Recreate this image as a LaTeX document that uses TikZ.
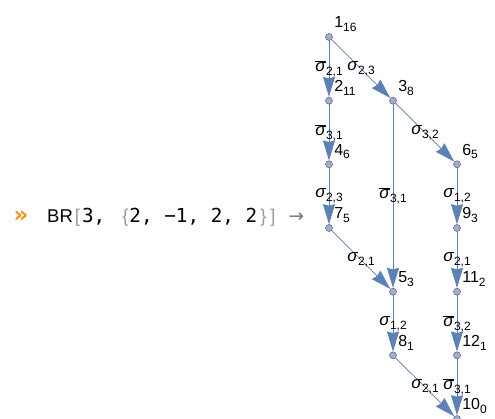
\documentclass[tikz,border=0pt]{standalone}
\usepackage{fontspec}
\setmainfont{Liberation Sans}
\newfontfamily\monofont{DejaVu Sans Mono}
\newfontfamily\symfont{DejaVu Sans}
\usetikzlibrary{arrows.meta}
\definecolor{edgeblue}{rgb}{0.368,0.507,0.710}
\definecolor{vfill}{HTML}{A3AFC6}
\definecolor{vdraw}{HTML}{5F6F8F}
\definecolor{promptorange}{HTML}{F0901E}
\definecolor{brk}{HTML}{9A9A9A}
% sigma labels: plain and inverse
\newcommand{\sg}[1]{\textit{σ}\raisebox{-0.45ex}{\fontsize{12}{12}\selectfont #1}}
\newcommand{\sgb}[1]{$\overline{\hbox{\textit{σ}}}$\raisebox{-0.45ex}{\fontsize{12}{12}\selectfont #1}}
\newcommand{\vn}[2]{#1\raisebox{-0.45ex}{\fontsize{12}{12}\selectfont #2}}

\begin{document}
\begin{tikzpicture}[x=64pt,y=63.67pt,>={Stealth[length=20pt,width=12pt,inset=1.5pt]},
  v/.style={circle,draw=vdraw,fill=vfill,line width=0.6pt,inner sep=0pt,minimum size=7pt},
  e/.style={->,draw=edgeblue,fill=edgeblue,line width=0.7pt},
  el/.style={font=\fontsize{17}{17}\selectfont,inner sep=0pt},
  vl/.style={font=\fontsize{16}{16}\selectfont,inner sep=1pt,label distance=2pt}]
  \useasboundingbox (-329/64,37/63.67) rectangle (166/64,-382/63.67);
  % input line
  \node[anchor=base west,text=promptorange,font=\symfont\bfseries\fontsize{23}{23}\selectfont,inner sep=0pt](mark)at(-4.93,-2.906){»};
  \node[anchor=base west,font=\fontsize{18.5}{18.5}\selectfont,inner sep=0pt](inp)at(-4.406,-2.906){BR\kern2pt{\color{brk}[}\kern2pt{\monofont\fontsize{19.3}{19.3}\selectfont 3,}\kern17pt{\color{brk}\{}\kern1pt{\monofont\fontsize{19.3}{19.3}\selectfont 2, −1, 2, 2}\kern3pt{\color{brk}\}\kern4pt]}\kern13pt{\symfont\color{brk!80!black}→}};
  % vertices
  \node[v,label={[vl]45:\vn{1}{16}}](v1)at(0,0){};
  \node[v,label={[vl]45:\vn{2}{11}}](v2)at(0,-1){};
  \node[v,label={[vl]45:\vn{3}{8}}](v3)at(1,-1){};
  \node[v,label={[vl]45:\vn{4}{6}}](v4)at(0,-2){};
  \node[v,label={[vl]45:\vn{6}{5}}](v6)at(2,-2){};
  \node[v,label={[vl]45:\vn{7}{5}}](v7)at(0,-3){};
  \node[v,label={[vl]45:\vn{9}{3}}](v9)at(2,-3){};
  \node[v,label={[vl]45:\vn{5}{3}}](v5)at(1,-4){};
  \node[v,label={[vl]45:\vn{11}{2}}](v11)at(2,-4){};
  \node[v,label={[vl]45:\vn{8}{1}}](v8)at(1,-5){};
  \node[v,label={[vl]45:\vn{12}{1}}](v12)at(2,-5){};
  \node[v,label={[vl]45:\vn{10}{0}}](v10)at(2,-6){};
  % edges
  \draw[e](v1)--node[el]{\sgb{2,1}}(v2);
  \draw[e](v1)--node[el]{\sg{2,3}}(v3);
  \draw[e](v2)--node[el]{\sgb{3,1}}(v4);
  \draw[e](v3)--node[el]{\sg{3,2}}(v6);
  \draw[e](v3)--node[el]{\sgb{3,1}}(v5);
  \draw[e](v4)--node[el]{\sg{2,3}}(v7);
  \draw[e](v6)--node[el]{\sg{1,2}}(v9);
  \draw[e](v7)--node[el]{\sg{2,1}}(v5);
  \draw[e](v9)--node[el]{\sg{2,1}}(v11);
  \draw[e](v5)--node[el]{\sg{1,2}}(v8);
  \draw[e](v11)--node[el]{\sgb{3,2}}(v12);
  \draw[e](v8)--node[el]{\sg{2,1}}(v10);
  \draw[e](v12)--node[el]{\sgb{3,1}}(v10);
\end{tikzpicture}
\end{document}
